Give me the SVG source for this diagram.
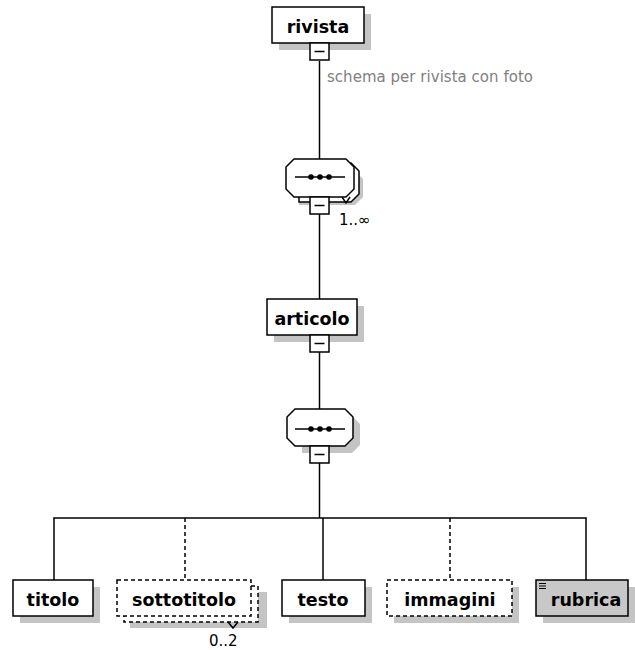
<svg xmlns="http://www.w3.org/2000/svg" width="635" height="650" viewBox="0 0 635 650">
<style>
.bx{fill:#fff;stroke:#000;stroke-width:1.5}
.dash{fill:#fff;stroke:#000;stroke-width:1.5;stroke-dasharray:4 3}
.sh{fill:#c4c4c4;stroke:none}
.ln{stroke:#000;stroke-width:1.5;fill:none}
.dl{stroke:#000;stroke-width:1.5;fill:none;stroke-dasharray:4 3}
.t{font-family:"DejaVu Sans",Verdana,sans-serif;font-weight:bold;font-size:17.5px;fill:#000;text-anchor:middle}
.ann{font-family:"DejaVu Sans",Verdana,sans-serif;font-size:15px;fill:#808080}
.occ{font-family:"DejaVu Sans",Verdana,sans-serif;font-size:15px;fill:#000}
</style>
<defs>
<g id="minus"><rect x="-9.5" y="0" width="19" height="17" class="bx"/><line x1="-5" y1="8.5" x2="5" y2="8.5" class="ln"/></g>
<g id="dots"><line x1="-25" y1="0" x2="25" y2="0" class="ln"/><circle cx="-9" cy="0" r="2.8"/><circle cx="0" cy="0" r="2.8"/><circle cx="9" cy="0" r="2.8"/></g>
</defs>
<g id="connectors">
<line x1="319.5" y1="61" x2="319.5" y2="159" class="ln"/>
<line x1="319.5" y1="214" x2="319.5" y2="299" class="ln"/>
<line x1="319.5" y1="352" x2="319.5" y2="409" class="ln"/>
<line x1="319.5" y1="463" x2="319.5" y2="518" class="ln"/>
<polyline points="54,580 54,518 586,518 586,580" class="ln"/>
<line x1="323" y1="518" x2="323" y2="580" class="ln"/>
<line x1="185" y1="518" x2="185" y2="580" class="dl"/>
<line x1="450" y1="518" x2="450" y2="580" class="dl"/>
</g>
<g id="rivista">
<rect x="279" y="14" width="92" height="36" class="sh"/>
<rect x="272" y="7" width="92" height="36" class="bx"/>
<text x="318" y="33" class="t">rivista</text>
<use href="#minus" x="319.5" y="43"/>
<text x="327" y="82" class="ann" textLength="206">schema per rivista con foto</text>
</g>
<g id="seq1">
<polygon points="299,171 355,171 363,179 363,197 355,205 299,205" class="sh"/>
<polygon points="299,163 351,163 359,171 359,194 351,202 299,202" class="bx"/>
<polygon points="294,159 346,159 354,167 354,189 346,197 294,197 286,189 286,167" class="bx"/>
<polyline points="342,197 346,203 350,197" class="ln"/>
<use href="#dots" x="320" y="177"/>
<use href="#minus" x="319.5" y="197"/>
<text x="339" y="225" class="occ">1..∞</text>
</g>
<g id="articolo">
<rect x="274" y="306" width="90" height="36" class="sh"/>
<rect x="267" y="299" width="90" height="36" class="bx"/>
<text x="312" y="325" class="t">articolo</text>
<use href="#minus" x="319.5" y="335"/>
</g>
<g id="seq2">
<polygon points="302,416 352,416 360,424 360,445 352,453 302,453" class="sh"/>
<polygon points="295,409 345,409 353,417 353,438 345,446 295,446 287,438 287,417" class="bx"/>
<use href="#dots" x="320" y="429"/>
<use href="#minus" x="319.5" y="446"/>
</g>
<g id="titolo">
<rect x="20" y="587" width="80" height="36" class="sh"/>
<rect x="13" y="580" width="80" height="36" class="bx"/>
<text x="53" y="606" class="t">titolo</text>
</g>
<g id="sottotitolo">
<rect x="130" y="592" width="137" height="36" class="sh"/>
<path d="M251,586 H258 V622 H124 V616" class="dash"/>
<rect x="117" y="580" width="134" height="36" class="dash"/>
<polyline points="228,622 233,628 238,622" class="ln"/>
<text x="184" y="606" class="t">sottotitolo</text>
<text x="209" y="646" class="occ">0..2</text>
</g>
<g id="testo">
<rect x="289" y="587" width="83" height="36" class="sh"/>
<rect x="282" y="580" width="83" height="36" class="bx"/>
<text x="323" y="606" class="t">testo</text>
</g>
<g id="immagini">
<rect x="394" y="587" width="125" height="36" class="sh"/>
<rect x="387" y="580" width="125" height="36" class="dash"/>
<text x="450" y="606" class="t">immagini</text>
</g>
<g id="rubrica">
<rect x="543" y="587" width="92" height="36" class="sh"/>
<rect x="536" y="580" width="92" height="36" fill="#c8c8c8" stroke="#000" stroke-width="1.5"/>
<path d="M539,583.5 H546 M539,586 H546 M539,588.5 H546" stroke="#000" stroke-width="1"/>
<text x="586" y="606" class="t">rubrica</text>
</g>
</svg>
